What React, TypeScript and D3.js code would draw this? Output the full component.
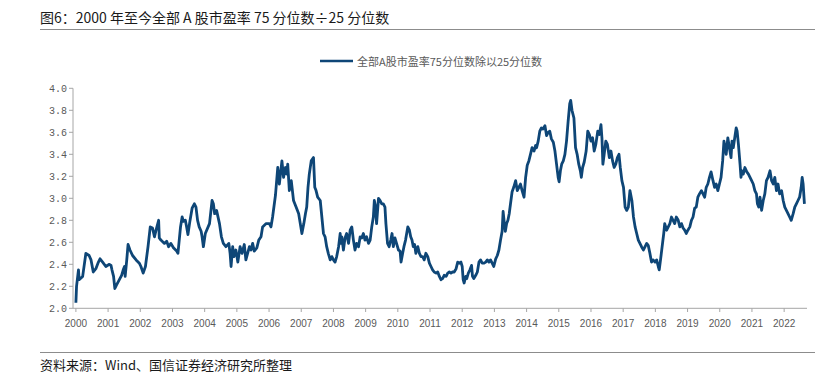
import React from "react";
import * as d3 from "d3";

const dates: number[] = [
  2000.00,2000.02,2000.08,2000.10,2000.21,2000.31,2000.41,2000.47,2000.54,2000.62,2000.70,2000.75,2000.83,2000.93,
  2001.04,2001.09,2001.12,2001.17,2001.21,2001.26,2001.35,2001.42,2001.47,2001.51,2001.53,2001.58,2001.62,2001.68,2001.76,2001.87,2001.97,
  2002.02,2002.09,2002.16,2002.24,2002.31,2002.38,2002.44,2002.49,2002.57,2002.59,2002.64,2002.75,2002.82,2002.88,2002.95,
  2003.03,2003.13,2003.17,2003.21,2003.25,2003.30,2003.34,2003.40,2003.44,2003.48,2003.54,2003.61,2003.68,2003.73,2003.78,2003.83,2003.89,2003.92,2003.96,
  2004.02,2004.15,2004.23,2004.27,2004.31,2004.37,2004.46,2004.52,2004.58,2004.66,2004.75,2004.79,2004.82,2004.87,2004.91,2004.97,
  2005.03,2005.10,2005.16,2005.23,2005.28,2005.39,2005.44,2005.49,2005.54,2005.62,2005.68,2005.75,2005.80,2005.91,
  2006.01,2006.06,2006.11,2006.20,2006.27,2006.32,2006.40,2006.45,2006.51,2006.55,2006.58,2006.63,2006.69,2006.76,2006.84,2006.92,2006.97,
  2007.02,2007.08,2007.13,2007.17,2007.21,2007.25,2007.31,2007.38,2007.42,2007.46,2007.51,2007.59,2007.64,2007.69,2007.74,2007.79,2007.84,2007.90,2007.95,
  2008.00,2008.05,2008.10,2008.16,2008.21,2008.23,2008.26,2008.31,2008.36,2008.41,2008.47,2008.52,2008.57,2008.62,2008.67,2008.72,2008.78,2008.83,2008.88,2008.93,2008.98,
  2009.03,2009.09,2009.14,2009.19,2009.24,2009.27,2009.31,2009.34,2009.40,2009.45,2009.50,2009.55,2009.60,2009.63,2009.68,2009.73,2009.78,2009.82,2009.86,2009.91,2009.96,
  2010.02,2010.07,2010.10,2010.15,2010.19,2010.24,2010.31,2010.36,2010.40,2010.44,2010.48,2010.52,2010.56,2010.62,2010.67,2010.72,2010.77,2010.82,2010.87,2010.93,2010.98,
  2011.03,2011.08,2011.13,2011.19,2011.24,2011.29,2011.34,2011.39,2011.44,2011.50,2011.55,2011.60,2011.65,2011.70,2011.75,2011.81,2011.86,2011.91,2011.96,
  2012.00,2012.03,2012.06,2012.11,2012.14,2012.19,2012.24,2012.29,2012.32,2012.36,2012.42,2012.47,2012.52,2012.57,2012.62,2012.67,2012.73,2012.78,2012.83,2012.88,2012.93,2012.98,
  2013.04,2013.09,2013.14,2013.19,2013.24,2013.27,2013.31,2013.34,2013.38,2013.42,2013.46,2013.50,2013.55,2013.60,2013.66,2013.71,2013.76,2013.81,2013.86,2013.92,2013.97,
  2014.02,2014.07,2014.12,2014.17,2014.23,2014.28,2014.31,2014.36,2014.41,2014.46,2014.51,2014.57,2014.62,2014.67,2014.72,2014.77,2014.83,2014.88,2014.93,2014.98,
  2015.01,2015.05,2015.09,2015.14,2015.19,2015.24,2015.29,2015.34,2015.37,2015.41,2015.47,2015.52,2015.57,2015.62,2015.67,2015.70,2015.74,2015.79,2015.85,2015.90,2015.95,
  2016.00,2016.05,2016.10,2016.15,2016.21,2016.26,2016.31,2016.34,2016.37,2016.41,2016.46,2016.51,2016.57,2016.62,2016.67,2016.72,2016.77,2016.82,2016.87,2016.91,2016.96,
  2017.01,2017.06,2017.11,2017.16,2017.21,2017.27,2017.32,2017.37,2017.42,2017.47,2017.52,2017.57,2017.63,2017.68,2017.73,2017.78,2017.83,2017.88,2017.93,2017.99,
  2018.04,2018.09,2018.12,2018.16,2018.21,2018.26,2018.29,2018.35,2018.40,2018.45,2018.50,2018.55,2018.60,2018.65,2018.71,2018.76,2018.81,2018.86,2018.91,2018.96,
  2019.01,2019.07,2019.12,2019.17,2019.22,2019.27,2019.32,2019.37,2019.43,2019.48,2019.53,2019.58,2019.63,2019.68,2019.73,2019.79,2019.84,2019.89,2019.94,2019.99,
  2020.04,2020.09,2020.13,2020.17,2020.20,2020.25,2020.30,2020.35,2020.38,2020.42,2020.48,2020.51,2020.54,2020.58,2020.63,2020.66,2020.69,2020.73,2020.78,2020.84,2020.89,2020.94,2020.99,
  2021.04,2021.09,2021.14,2021.17,2021.21,2021.25,2021.30,2021.35,2021.40,2021.45,2021.50,2021.56,2021.61,2021.66,2021.71,2021.76,2021.81,2021.86,2021.92,2021.97,
  2022.02,2022.07,2022.12,2022.17,2022.22,2022.28,2022.33,2022.38,2022.43,2022.48,2022.53,2022.56,2022.59,2022.63,
];

const ratio: number[] = [
  2.05,2.20,2.35,2.26,2.29,2.50,2.48,2.44,2.33,2.36,2.42,2.45,2.42,2.38,
  2.40,2.39,2.35,2.29,2.18,2.21,2.26,2.30,2.35,2.38,2.29,2.44,2.58,2.53,2.48,2.44,2.41,
  2.38,2.32,2.38,2.56,2.74,2.73,2.65,2.71,2.80,2.64,2.62,2.59,2.61,2.56,2.59,
  2.55,2.52,2.50,2.62,2.74,2.83,2.79,2.80,2.74,2.67,2.79,2.91,2.95,2.92,2.80,2.74,2.70,2.65,2.56,
  2.68,2.77,2.98,2.95,2.86,2.89,2.77,2.65,2.59,2.56,2.59,2.50,2.38,2.56,2.47,2.53,
  2.42,2.56,2.50,2.58,2.44,2.56,2.53,2.59,2.52,2.55,2.62,2.65,2.74,2.77,
  2.77,2.74,2.83,3.03,3.28,3.13,3.34,3.19,3.28,3.22,3.31,3.07,3.16,2.98,2.92,2.86,2.77,
  2.68,2.77,2.86,2.92,3.10,3.22,3.34,3.37,3.10,3.07,3.01,2.98,2.83,2.68,2.65,2.56,2.50,2.44,2.47,
  2.44,2.42,2.47,2.56,2.68,2.59,2.65,2.53,2.64,2.68,2.59,2.71,2.74,2.62,2.53,2.59,2.56,2.65,2.64,2.68,2.62,
  2.65,2.59,2.62,2.74,2.83,2.98,2.92,2.77,3.00,2.98,2.95,2.95,2.92,2.77,2.59,2.56,2.62,2.68,2.56,2.64,2.59,
  2.53,2.52,2.42,2.50,2.56,2.62,2.74,2.71,2.65,2.62,2.56,2.58,2.50,2.56,2.50,2.47,2.47,2.44,2.50,2.47,2.41,
  2.38,2.35,2.33,2.32,2.33,2.29,2.26,2.27,2.30,2.29,2.32,2.33,2.32,2.33,2.33,2.36,2.42,2.41,2.42,
  2.38,2.26,2.23,2.29,2.27,2.32,2.35,2.39,2.29,2.27,2.30,2.33,2.42,2.44,2.41,2.41,2.42,2.44,2.42,2.44,2.41,2.38,
  2.45,2.48,2.53,2.62,2.70,2.88,2.77,2.70,2.77,2.80,2.86,2.95,3.06,3.10,3.16,3.07,3.10,3.13,3.07,3.01,3.19,
  3.30,3.34,3.40,3.46,3.43,3.48,3.46,3.52,3.61,3.64,3.63,3.66,3.57,3.60,3.61,3.54,3.51,3.43,3.31,3.19,
  3.15,3.25,3.31,3.34,3.40,3.52,3.70,3.86,3.89,3.80,3.73,3.46,3.40,3.31,3.25,3.19,3.28,3.33,3.43,3.61,3.58,
  3.52,3.55,3.43,3.49,3.61,3.58,3.67,3.55,3.31,3.40,3.52,3.49,3.37,3.43,3.34,3.28,3.31,3.37,3.40,3.28,3.16,
  3.10,2.92,2.89,2.92,3.07,2.98,2.83,2.74,2.68,2.62,2.59,2.56,2.53,2.56,2.59,2.57,2.50,2.42,2.44,2.42,
  2.44,2.38,2.35,2.44,2.56,2.68,2.77,2.71,2.74,2.77,2.83,2.80,2.77,2.83,2.80,2.74,2.77,2.73,2.71,2.68,
  2.71,2.74,2.80,2.83,2.91,2.92,3.01,3.04,3.07,3.04,3.01,3.10,3.13,3.19,3.24,3.16,3.10,3.13,3.07,3.13,
  3.19,3.34,3.52,3.46,3.40,3.55,3.46,3.37,3.52,3.46,3.58,3.64,3.61,3.49,3.31,3.19,3.25,3.22,3.28,3.24,3.22,3.19,3.16,
  3.13,3.07,3.04,2.95,2.92,3.01,2.89,2.98,3.04,3.16,3.19,3.25,3.16,3.13,3.19,3.07,3.13,3.04,3.07,2.98,
  2.92,2.89,2.86,2.83,2.80,2.86,2.92,2.95,2.98,3.01,3.10,3.19,3.13,2.95,
];

const yearTicks: number[] = d3.range(2000, 2023);
const yTicks: number[] = [2.0, 2.2, 2.4, 2.6, 2.8, 3.0, 3.2, 3.4, 3.6, 3.8, 4.0];

const titleText = "图6：2000 年至今全部 A 股市盈率 75 分位数÷25 分位数";
const legendText = "全部A股市盈率75分位数除以25分位数";
const sourceText = "资料来源：Wind、国信证券经济研究所整理";

const LINE = "#0e4677";
const AXIS = "#a6a6a6";
const LABEL = "#595959";

export default function App() {
  const x = d3.scaleLinear().domain([1999.91, 2022.71]).range([73, 807]);
  const y = d3.scaleLinear().domain([2, 4]).range([308.3, 88.3]);
  const pts = dates.map((d, i) => [d, ratio[i]] as [number, number]);
  const path = d3
    .line<[number, number]>()
    .x((d) => x(d[0]))
    .y((d) => y(d[1]))(pts) as string;

  const cjk = "'Noto Sans CJK SC', 'Noto Sans', sans-serif";

  return (
    <svg
      width={822}
      height={375}
      style={{ position: "absolute", left: 0, top: 0, background: "#fff" }}
    >
      <rect x={0} y={0} width={822} height={375} fill="#fff" />
      <text x={40} y={23} fontFamily={cjk} fontSize={14} fill="#1a1a1a">
        {titleText}
      </text>
      <line x1={40} x2={815} y1={29.5} y2={29.5} stroke="#8c8c8c" strokeWidth={1} />

      {/* legend */}
      <line x1={320} x2={353} y1={61} y2={61} stroke={LINE} strokeWidth={2.5} />
      <text x={357} y={65.5} fontFamily={cjk} fontSize={11} fill={LABEL}>
        {legendText}
      </text>

      {/* y axis */}
      <line x1={73} x2={73} y1={y(4)} y2={y(2)} stroke={AXIS} strokeWidth={1} />
      {yTicks.map((t) => (
        <g key={"y" + t}>
          <line x1={69} x2={73} y1={y(t)} y2={y(t)} stroke={AXIS} strokeWidth={1} />
          <text
            x={67}
            y={y(t)}
            dy="0.35em"
            textAnchor="end"
            fontFamily="'Liberation Mono', monospace"
            fontSize={10}
            fill={LABEL}
          >
            {t.toFixed(1)}
          </text>
        </g>
      ))}

      {/* x axis */}
      <line x1={73} x2={807} y1={308.3} y2={308.3} stroke={AXIS} strokeWidth={1} />
      {yearTicks.map((t) => (
        <g key={"x" + t}>
          <line x1={x(t)} x2={x(t)} y1={308.3} y2={312} stroke={AXIS} strokeWidth={1} />
          <text
            x={x(t)}
            y={327}
            textAnchor="middle"
            fontFamily="'Liberation Sans', Arial, sans-serif"
            fontSize={10}
            fill={LABEL}
          >
            {t}
          </text>
        </g>
      ))}

      <path d={path} fill="none" stroke={LINE} strokeWidth={2.8} strokeLinejoin="round" />

      <line x1={40} x2={815} y1={352.5} y2={352.5} stroke="#8c8c8c" strokeWidth={1} />
      <text x={40} y={370} fontFamily={cjk} fontSize={13} fill="#1a1a1a">
        {sourceText}
      </text>
    </svg>
  );
}
